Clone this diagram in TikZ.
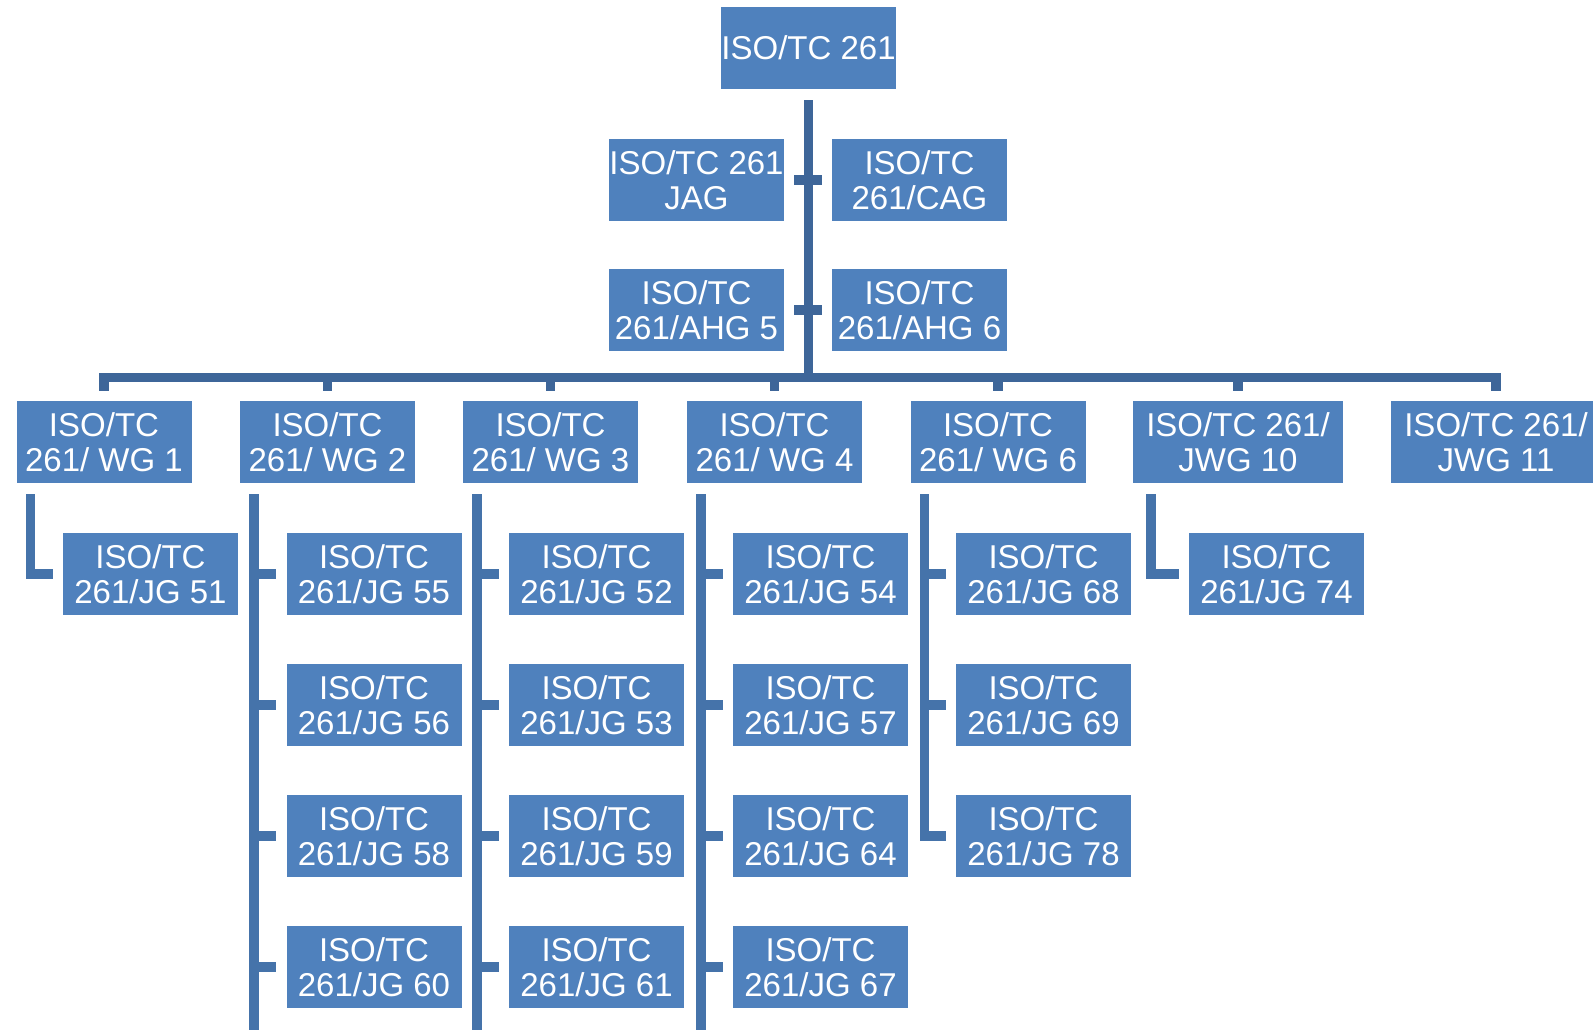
\documentclass[tikz,border=0pt]{standalone}
\usepackage[RGB]{xcolor}
\usepackage{fontspec}
\setmainfont{Liberation Sans}
\usepackage{tikz}
\definecolor{boxblue}{RGB}{79,129,189}
\definecolor{trunkblue}{RGB}{62,102,153}
\definecolor{barblue}{RGB}{69,115,170}
\tikzset{
  unit/.style={fill=boxblue, text=white, minimum width=175pt, minimum height=82pt,
    inner sep=0pt, align=center, font=\fontsize{33}{34.5}\selectfont},
  wideunit/.style={unit, minimum width=210pt},
  trunk/.style={draw=trunkblue, line width=9.5pt},
  branch/.style={draw=barblue, line width=9.5pt}
}
\newcommand{\branchtick}[2]{\draw[branch] (#1 |- #2.west) -- ([xshift=-10pt]#2.west);}
\newcommand{\jgbox}[3]{\node[unit] (jg#1) at (#2,{443+131*#3}) {ISO/TC\\261/JG #1};}

\begin{document}
\begin{tikzpicture}[x=1pt,y=-1pt]
\useasboundingbox (0,0) rectangle (1593,1029);
% top of the tree
\node[unit] (root) at (808.5,48) {ISO/TC 261};
\node[unit] (jag) at (696.5,180) {ISO/TC 261\\JAG};
\node[unit] (cag) at (919.5,180) {ISO/TC\\261/CAG};
\node[unit] (ahg5) at (696.5,310) {ISO/TC\\261/AHG 5};
\node[unit] (ahg6) at (919.5,310) {ISO/TC\\261/AHG 6};
\coordinate (bus) at (808.5,377.5);
\coordinate (foot) at (0,1040);
% working groups
\node[unit] (wg1) at (104,442) {ISO/TC\\261/ WG 1};
\node[unit] (wg2) at (327.5,442) {ISO/TC\\261/ WG 2};
\node[unit] (wg3) at (550.5,442) {ISO/TC\\261/ WG 3};
\node[unit] (wg4) at (774.5,442) {ISO/TC\\261/ WG 4};
\node[unit] (wg6) at (998,442) {ISO/TC\\261/ WG 6};
\node[wideunit] (jwg10) at (1238,442) {ISO/TC 261/\\JWG 10};
\node[wideunit] (jwg11) at (1496,442) {ISO/TC 261/\\JWG 11};
% joint groups
\jgbox{51}{150.5}{1}
\foreach \n/\r in {55/1,56/2,58/3,60/4} {\jgbox{\n}{374}{\r}}
\foreach \n/\r in {52/1,53/2,59/3,61/4} {\jgbox{\n}{596.5}{\r}}
\foreach \n/\r in {54/1,57/2,64/3,67/4} {\jgbox{\n}{820.5}{\r}}
\foreach \n/\r in {68/1,69/2,78/3} {\jgbox{\n}{1043.5}{\r}}
\jgbox{74}{1276.5}{1}
% trunk and bus
\draw[trunk] ([yshift=-11pt]root.south) -- (bus);
\draw[trunk] ([xshift=10pt]jag.east) -- ([xshift=-10pt]cag.west);
\draw[trunk] ([xshift=10pt]ahg5.east) -- ([xshift=-10pt]ahg6.west);
\draw[trunk] ([yshift=10pt]wg1.north) |- (bus) -| ([yshift=10pt]jwg11.north);
\foreach \w in {wg2,wg3,wg4,wg6,jwg10}
  \draw[trunk] ([yshift=10pt]\w.north) -- (\w.north |- bus);
% bars below the working groups
\coordinate (bar1) at ([xshift=14pt,yshift=-11pt]wg1.south west);
\coordinate (bar2) at ([xshift=14pt,yshift=-11pt]wg2.south west);
\coordinate (bar3) at ([xshift=14pt,yshift=-11pt]wg3.south west);
\coordinate (bar4) at ([xshift=14pt,yshift=-11pt]wg4.south west);
\coordinate (bar6) at ([xshift=14pt,yshift=-11pt]wg6.south west);
\coordinate (bar10) at ([xshift=18pt,yshift=-11pt]jwg10.south west);
\draw[branch] (bar1) |- ([xshift=-10pt]jg51.west);
\draw[branch] (bar10) |- ([xshift=-10pt]jg74.west);
\draw[branch] (bar6) |- ([xshift=-10pt]jg78.west);
\branchtick{bar6}{jg68}\branchtick{bar6}{jg69}
\draw[branch] (bar2) -- (bar2 |- foot);
\draw[branch] (bar3) -- (bar3 |- foot);
\draw[branch] (bar4) -- (bar4 |- foot);
\foreach \j in {jg55,jg56,jg58,jg60} {\branchtick{bar2}{\j}}
\foreach \j in {jg52,jg53,jg59,jg61} {\branchtick{bar3}{\j}}
\foreach \j in {jg54,jg57,jg64,jg67} {\branchtick{bar4}{\j}}
\end{tikzpicture}
\end{document}
